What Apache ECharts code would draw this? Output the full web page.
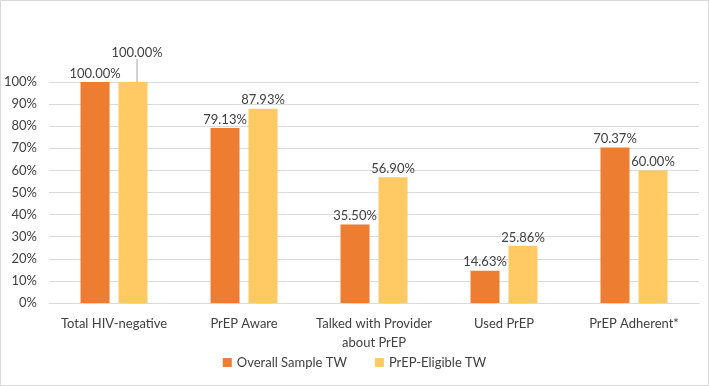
<!DOCTYPE html>
<html>
<head>
<meta charset="utf-8">
<script src="https://cdn.jsdelivr.net/npm/echarts@6/dist/echarts.min.js"></script>
<style>
  html, body { margin: 0; padding: 0; background: #fff; }
  #chart { width: 709px; height: 386px; box-sizing: border-box; border: 1px solid #d9d9d9; }
</style>
</head>
<body>
<div id="chart"></div>
<script>
var categories = ['Total HIV-negative', 'PrEP Aware', 'Talked with Provider\nabout PrEP', 'Used PrEP', 'PrEP Adherent*'];
var overall = [100.00, 79.13, 35.50, 14.63, 70.37];
var eligible = [100.00, 87.93, 56.90, 25.86, 60.00];
var yTicks = [0, 10, 20, 30, 40, 50, 60, 70, 80, 90, 100];

var font = 'Lato';
var myChart = echarts.init(document.getElementById('chart'));

function pct(p) { return Number(p.value).toFixed(2) + '%'; }

// only the first yellow label gets a guide line
var eligibleData = eligible.map(function (v, i) {
  return {
    value: v,
    labelLine: { show: i === 0, lineStyle: { color: '#a6a6a6', width: 1 } }
  };
});

var option = {
  animation: false,
  textStyle: { fontFamily: font },
  grid: { left: 45, right: 9, top: 81, bottom: 82 },
  legend: {
    bottom: 11,
    left: 'center',
    itemWidth: 9,
    itemHeight: 9,
    itemGap: 28,
    icon: 'rect',
    textStyle: { fontFamily: font, fontSize: 13, color: '#404040' },
    data: ['Overall Sample TW', 'PrEP-Eligible TW']
  },
  xAxis: {
    type: 'category',
    data: categories,
    axisLine: { lineStyle: { color: '#d9d9d9' } },
    axisTick: { show: false },
    axisLabel: { color: '#404040', fontSize: 13, fontFamily: font, margin: 11, lineHeight: 19, interval: 0 }
  },
  yAxis: {
    type: 'value',
    min: yTicks[0],
    max: yTicks[yTicks.length - 1],
    interval: 10,
    axisLine: { show: false },
    axisTick: { show: false },
    splitLine: { lineStyle: { color: '#d9d9d9' } },
    axisLabel: { color: '#404040', fontSize: 13, fontFamily: font, margin: 12, formatter: '{value}%' }
  },
  series: [
    {
      name: 'Overall Sample TW',
      type: 'bar',
      data: overall,
      barWidth: 29,
      barGap: '31%',
      itemStyle: { color: '#ed7d31' },
      label: { show: true, position: 'top', distance: 2, color: '#404040', fontSize: 13, fontFamily: font, formatter: pct }
    },
    {
      name: 'PrEP-Eligible TW',
      type: 'bar',
      data: eligibleData,
      barWidth: 29,
      itemStyle: { color: '#ffc964' },
      label: { show: true, position: 'top', distance: 2, color: '#404040', fontSize: 13, fontFamily: font, formatter: pct },
      labelLayout: function (params) {
        if (params.dataIndex === 0) {
          return { dx: 4, dy: -21 };
        }
        return {};
      }
    }
  ]
};
myChart.setOption(option);
</script>
</body>
</html>
